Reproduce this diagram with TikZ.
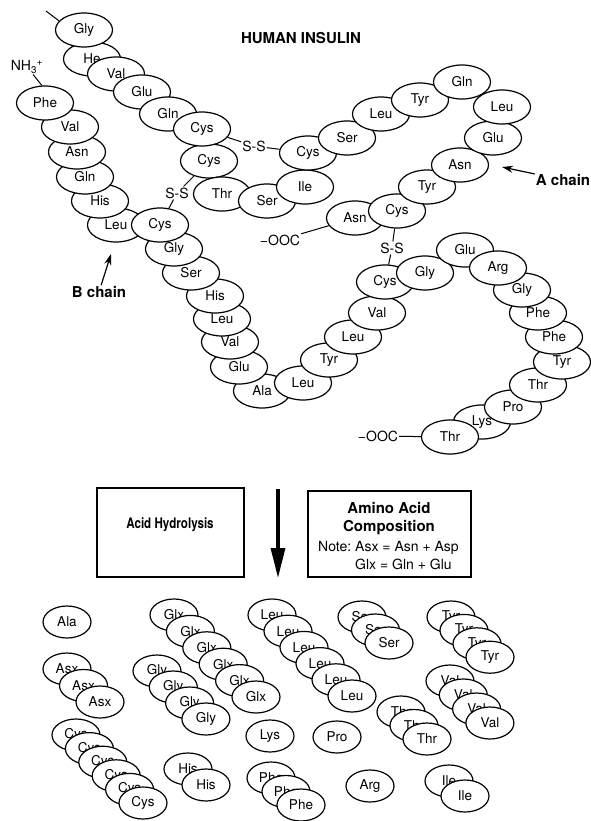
\documentclass[tikz,border=0pt]{standalone}
\usepackage{fontspec}
\setmainfont{TeX Gyre Heros}
\usetikzlibrary{arrows.meta, shapes.geometric}

\begin{document}
\begin{tikzpicture}[
      x=1pt, y=-1pt,
      residue/.style={ellipse, draw, fill=white, line width=1.2pt, minimum width=57pt, minimum height=34pt, inner sep=0pt, font=\fontsize{13.5}{13.5}\selectfont},
      freeacid/.style={ellipse, draw, fill=white, line width=1.2pt, minimum width=48pt, minimum height=32pt, inner sep=0pt, font=\fontsize{13.5}{13.5}\selectfont},
      bond/.style={line width=1pt},
      tag/.style={font=\fontsize{14}{14}\selectfont, inner sep=1pt},
      chainlabel/.style={font=\bfseries\fontsize{15}{15}\selectfont, inner sep=1pt},
      pointer/.style={line width=1.2pt, -{Stealth[length=11pt, width=7pt]}},
      panel/.style={draw, line width=1.1pt, inner sep=0pt}
  ]
    \useasboundingbox (0,0) rectangle (591,821);

    \node[chainlabel] (title) at (301,38) {HUMAN INSULIN};

    % A chain
    \foreach \n/\t/\px/\py in {A2/He/92/59, A1/Gly/84/30, A3/Val/116/74, A4/Glu/142/92, A5/Gln/168/114,
        A7/Cys/209/161, A6/Cys/202/129, A8/Thr/222/194, A9/Ser/267/201, A10/Ile/305/187, A11/Cys/308/153,
        A12/Ser/347/138, A13/Leu/381/114, A14/Tyr/420/100, A21/Asn/355/218, A20/Cys/397/211, A19/Tyr/427/187,
        A18/Asn/460/165, A17/Glu/493/138, A16/Leu/502/107, A15/Gln/462/82}
      \node[residue] (\n) at (\px,\py) {\t};

    % B chain
    \foreach \n/\t/\px/\py in {B6/Leu/116/225, B5/His/100/201, B4/Gln/85/177, B3/Asn/77/152, B2/Val/70/127,
        B1/Phe/45/103, B14/Ala/262/391, B13/Glu/239/367, B12/Val/230/342, B11/Leu/222/319, B10/His/215/296,
        B9/Ser/191/273, B8/Gly/174/249, B7/Cys/160/225, B15/Leu/303/383, B16/Tyr/329/360, B17/Leu/353/337,
        B18/Val/377/313, B19/Cys/385/282, B20/Gly/425/273, B21/Glu/465/250, B29/Lys/482/422, B28/Pro/513/407,
        B27/Thr/538/385, B26/Tyr/562/362, B25/Phe/554/337, B24/Phe/538/313, B23/Gly/522/290, B22/Arg/498/268,
        B30/Thr/450/437}
      \node[residue] (\n) at (\px,\py) {\t};

    % ends
    \coordinate (Astart) at (46,11);
    \draw[bond] (Astart) -- (A1.160);
    \node[tag] (nh3) at (27,67) {NH\textsubscript{3}\textsuperscript{+}};
    \draw[bond] ([xshift=6pt]nh3.south) -- (B1.100);
    \node[tag] (ooc1) at (280,240) {−OOC};
    \draw[bond] (ooc1) -- (A21);
    \node[tag] (ooc2) at (378,436) {−OOC};
    \draw[bond] (ooc2) -- (B30);

    % disulfide bridges
    \node[tag] (ss1) at (254,146) {S-S};
    \draw[bond] (ss1) -- (A6);
    \draw[bond] (ss1) -- (A11);
    \node[tag] (ss2) at (177,193) {S-S};
    \draw[bond] (ss2) -- (A7);
    \draw[bond] (ss2) -- (B7);
    \node[tag] (ss3) at (392,248) {S-S};
    \draw[bond] (ss3) -- (A20);
    \draw[bond] (ss3) -- (B19);

    % chain labels
    \node[chainlabel] (alab) at (563,180) {A chain};
    \coordinate (atip) at (502,167);
    \draw[pointer] (alab) -- (atip);
    \node[chainlabel] (blab) at (99,292) {B chain};
    \coordinate (btip) at (111,254);
    \draw[pointer] (blab) -- (btip);

    % hydrolysis
    \node[panel, minimum width=147pt, minimum height=89pt] (hydro) at (170.5,532.5) {};
    \node[font=\bfseries\fontsize{14.5}{14.5}\selectfont] (hydrotext) at (170,525) {\scalebox{0.8}[1]{Acid Hydrolysis}};
    \coordinate (flowtop) at (278,489);
    \coordinate (flowbot) at (278,578);
    \draw[line width=3.2pt, -{Triangle[length=30pt, width=14pt]}] (flowtop) -- (flowbot);
    \node[panel, minimum width=163pt, minimum height=86pt] (comp) at (389.5,534) {};
    \node[font=\bfseries\fontsize{15}{18}\selectfont, align=center] (comptext) at (389,519) {Amino Acid\\Composition};
    \node[font=\fontsize{14}{18}\selectfont, anchor=west, inner sep=0pt] (note) at (318,557)
      {\begin{tabular}{@{}r@{}l@{}}\mbox{Note:~}&Asx = Asn + Asp\\&Glx = Gln + Glu\end{tabular}};

    % free amino acids
    \foreach \grp/\t/\cnt/\sx/\sy/\dx/\dy in {ala/Ala/1/67/622/0/0, asx/Asx/3/67/669/16.5/16.5,
        cys/Cys/6/76/735/13.4/13.6, gly/Gly/4/157/671/16.3/16, glx/Glx/6/174/615/16.4/16.4,
        his/His/2/188/769/18/16, lys/Lys/1/270/736/0/0, leu/Leu/6/272/615/16/16.2,
        phe/Phe/3/271/778/15/13.5, pro/Pro/1/337/737/0/0, arg/Arg/1/370/786/0/0,
        ser/Ser/3/362/617/13.5/13, thr/Thr/3/401/712/13/13.5, tyr/Tyr/4/451/617/13/13.4,
        val/Val/4/450/681/13.3/14, ile/Ile/2/449/781/16/15}
      \foreach \i in {1,...,\cnt}
        \node[freeacid] (\grp\i) at ({\sx+(\i-1)*\dx},{\sy+(\i-1)*\dy}) {\t};
  \end{tikzpicture}
\end{document}
